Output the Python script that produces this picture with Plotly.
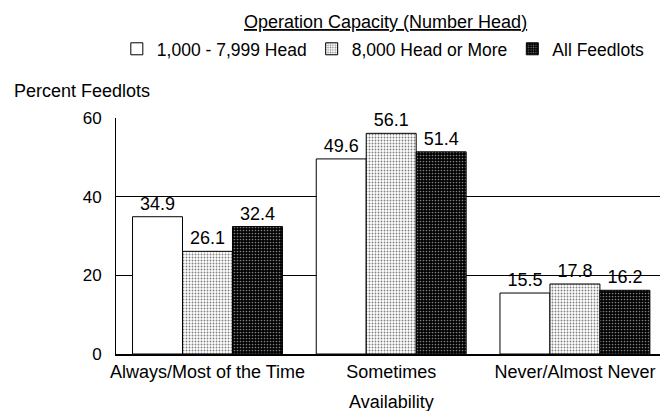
import plotly.graph_objects as go

categories = ["Always/Most of the Time", "Sometimes", "Never/Almost Never"]
series_names = ["1,000 - 7,999 Head", "8,000 Head or More", "All Feedlots"]
small = [34.9, 49.6, 15.5]
large = [26.1, 56.1, 17.8]
allf = [32.4, 51.4, 16.2]
y_ticks = [0, 20, 40, 60]

FONT = "Liberation Sans, Arial, sans-serif"

styles = [
    dict(color="white", pattern=None),
    dict(color="white", pattern=dict(shape=".", fgcolor="black", bgcolor="white", size=3, solidity=0.3)),
    dict(color="black", pattern=dict(shape=".", fgcolor="white", bgcolor="black", size=3, solidity=0.25)),
]

fig = go.Figure()
for name, vals, st in zip(series_names, [small, large, allf], styles):
    marker = dict(color=st["color"], line=dict(color="black", width=1))
    if st["pattern"]:
        marker["pattern"] = st["pattern"]
    fig.add_trace(go.Bar(
        x=categories, y=vals, name=name, marker=marker,
        text=[f"{v:.1f}" for v in vals], textposition="outside",
        textfont=dict(size=18, color="black", family=FONT),
        cliponaxis=False,
    ))

fig.update_layout(
    width=660, height=411,
    margin=dict(l=116, r=0, t=118, b=57, autoexpand=False),
    paper_bgcolor="white", plot_bgcolor="white",
    font=dict(family=FONT, size=18, color="black"),
    barmode="group", bargap=0.184, bargroupgap=0.0,
    showlegend=True,
    legend=dict(orientation="h", xref="container", yref="container",
                x=0.177, xanchor="left", y=0.881, yanchor="middle",
                font=dict(size=17.5), traceorder="normal", bgcolor="rgba(0,0,0,0)"),
    xaxis=dict(range=[-0.498, 2.463], showline=True, linecolor="black", linewidth=2, ticks="",
               tickfont=dict(size=18), showgrid=False),
    yaxis=dict(range=[0, 60], tickvals=y_ticks, showline=True, linecolor="black", linewidth=1,
               ticks="outside", ticklen=10, tickcolor="white",
               showgrid=True, gridcolor="black", gridwidth=1, zeroline=False,
               tickfont=dict(size=17)),
    annotations=[
        dict(text="<u>Operation Capacity (Number Head)</u>", xref="paper", yref="paper",
             x=0.496, y=1.407, xanchor="center", yanchor="middle", showarrow=False,
             font=dict(size=18)),
        dict(text="Percent Feedlots", xref="paper", yref="paper",
             x=-0.191, y=1.114, xanchor="left", yanchor="middle", showarrow=False,
             font=dict(size=18)),
        dict(text="Availability", xref="paper", yref="paper",
             x=0.507, y=-0.203, xanchor="center", yanchor="middle", showarrow=False,
             font=dict(size=18)),
    ],
)

fig.write_html("out.html", config={"displayModeBar": False},
               post_script="document.body.style.margin='0';")
